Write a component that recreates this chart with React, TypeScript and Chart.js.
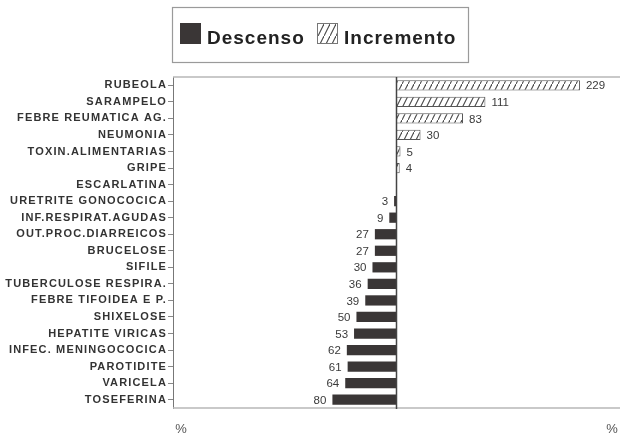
import React, { useEffect, useRef } from 'react';
import { Chart, registerables } from 'chart.js';

Chart.register(...registerables);

const categories = [
  'RUBEOLA', 'SARAMPELO', 'FEBRE REUMATICA AG.', 'NEUMONIA', 'TOXIN.ALIMENTARIAS',
  'GRIPE', 'ESCARLATINA', 'URETRITE GONOCOCICA', 'INF.RESPIRAT.AGUDAS', 'OUT.PROC.DIARREICOS',
  'BRUCELOSE', 'SIFILE', 'TUBERCULOSE RESPIRA.', 'FEBRE TIFOIDEA E P.', 'SHIXELOSE',
  'HEPATITE VIRICAS', 'INFEC. MENINGOCOCICA', 'PAROTIDITE', 'VARICELA', 'TOSEFERINA',
];

// Increase (%)
const incrementoValues: (number | null)[] = [
  229, 111, 83, 30, 5, 4, null, null, null, null,
  null, null, null, null, null, null, null, null, null, null,
];

// Decrease (%), stored as positive percentages
const descensoValues: (number | null)[] = [
  null, null, null, null, null, null, null, 3, 9, 27,
  27, 30, 36, 39, 50, 53, 62, 61, 64, 80,
];

const seriesLabels = ['Descenso', 'Incremento'];
const axisEndLabels = ['%', '%'];

const DARK = '#3a3636';
const HATCH = '#4a4a4a';

function makeHatch(): CanvasPattern | string {
  const c = document.createElement('canvas');
  c.width = 6;
  c.height = 12;
  const g = c.getContext('2d');
  if (!g) return '#fff';
  g.fillStyle = '#ffffff';
  g.fillRect(0, 0, 6, 12);
  g.strokeStyle = HATCH;
  g.lineWidth = 1.1;
  g.beginPath();
  g.moveTo(-1, 14);
  g.lineTo(7, -2);
  g.stroke();
  const p = g.createPattern(c, 'repeat');
  return p || '#fff';
}

export default function App() {
  const ref = useRef<HTMLCanvasElement | null>(null);

  useEffect(() => {
    if (!ref.current) return;
    const hatch = makeHatch();

    const overlay = {
      id: 'overlay',
      beforeDraw(chart: any) {
        (chart.ctx as any).letterSpacing = '1.15px';
      },
      beforeDatasetsDraw(chart: any) {
        const ctx = chart.ctx;
        const a = chart.chartArea;
        ctx.save();
        ctx.strokeStyle = '#b8b8b8';
        ctx.lineWidth = 1.5;
        ctx.beginPath();
        ctx.moveTo(a.left, a.top);
        ctx.lineTo(a.right, a.top);
        ctx.moveTo(a.left, a.bottom);
        ctx.lineTo(a.right, a.bottom);
        ctx.stroke();
        ctx.restore();
      },
      afterDraw(chart: any) {
        const ctx = chart.ctx;
        const a = chart.chartArea;
        const xs = chart.scales.x;
        (ctx as any).letterSpacing = '0px';
        ctx.save();
        // zero line
        const x0 = xs.getPixelForValue(0);
        ctx.strokeStyle = '#444';
        ctx.lineWidth = 1.5;
        ctx.beginPath();
        ctx.moveTo(x0, a.top);
        ctx.lineTo(x0, a.bottom + 1);
        ctx.stroke();

        // value labels
        ctx.font = '11.5px "Liberation Sans", Arial, sans-serif';
        ctx.fillStyle = '#3a3a3a';
        ctx.textBaseline = 'middle';
        chart.data.datasets.forEach((ds: any, di: number) => {
          const meta = chart.getDatasetMeta(di);
          meta.data.forEach((bar: any, i: number) => {
            const v = ds.data[i];
            if (v == null) return;
            const txt = String(Math.abs(v));
            if (v >= 0) {
              ctx.textAlign = 'left';
              ctx.fillText(txt, bar.x + 6, bar.y + 1);
            } else {
              ctx.textAlign = 'right';
              ctx.fillText(txt, bar.x - 6, bar.y + 1);
            }
          });
        });

        // axis end labels
        ctx.font = '13px "Liberation Sans", Arial, sans-serif';
        ctx.fillStyle = '#555';
        ctx.textAlign = 'center';
        ctx.fillText(axisEndLabels[0], a.left + 8, 429);
        ctx.fillText(axisEndLabels[1], 612, 429);

        // legend
        ctx.strokeStyle = '#9a9a9a';
        ctx.lineWidth = 1.2;
        ctx.strokeRect(172.5, 7.5, 296, 55);
        ctx.fillStyle = DARK;
        ctx.fillRect(180, 23, 21, 21);
        ctx.fillStyle = hatch as any;
        ctx.fillRect(317, 23, 21, 21);
        ctx.strokeStyle = '#777';
        ctx.lineWidth = 1;
        ctx.strokeRect(317.5, 23.5, 20, 20);
        ctx.fillStyle = '#222';
        ctx.font = 'bold 19px "Liberation Sans", Arial, sans-serif';
        (ctx as any).letterSpacing = '1px';
        ctx.textAlign = 'left';
        ctx.textBaseline = 'alphabetic';
        ctx.fillText(seriesLabels[0], 207, 44);
        ctx.fillText(seriesLabels[1], 344, 44);
        (ctx as any).letterSpacing = '0px';
        ctx.restore();
      },
    };

    const chart = new Chart(ref.current, {
      type: 'bar',
      data: {
        labels: categories,
        datasets: [
          {
            label: seriesLabels[0],
            data: descensoValues.map((v) => (v == null ? null : -v)),
            backgroundColor: DARK,
            borderWidth: 0,
            barPercentage: 0.62,
            categoryPercentage: 1,
          },
          {
            label: seriesLabels[1],
            data: incrementoValues,
            backgroundColor: hatch as any,
            borderColor: '#555',
            borderWidth: 1,
            barPercentage: 0.62,
            categoryPercentage: 1,
          },
        ],
      },
      plugins: [overlay],
      options: {
        indexAxis: 'y',
        animation: false,
        responsive: true,
        maintainAspectRatio: false,
        layout: { padding: { top: 77, bottom: 28, left: 0, right: 0 } },
        plugins: {
          legend: { display: false },
          tooltip: { enabled: false },
          title: { display: false },
        },
        scales: {
          x: {
            display: false,
            stacked: true,
            min: -279,
            max: 279,
          },
          y: {
            stacked: true,
            afterFit: (scale: any) => {
              scale.width = 173;
            },
            ticks: {
              autoSkip: false,
              color: '#333',
              padding: 1,
              font: { family: '"Liberation Sans", Arial, sans-serif', size: 11, weight: 'bold' },
            },
            grid: {
              offset: false,
              drawOnChartArea: false,
              tickLength: 5,
              color: '#888',
            },
            border: { display: true, color: '#777', width: 1 },
          },
        },
      },
    });
    return () => chart.destroy();
  }, []);

  return (
    <div style={{ position: 'absolute', left: 0, top: 0, width: 620, height: 436, background: '#fff' }}>
      <canvas ref={ref} />
    </div>
  );
}
